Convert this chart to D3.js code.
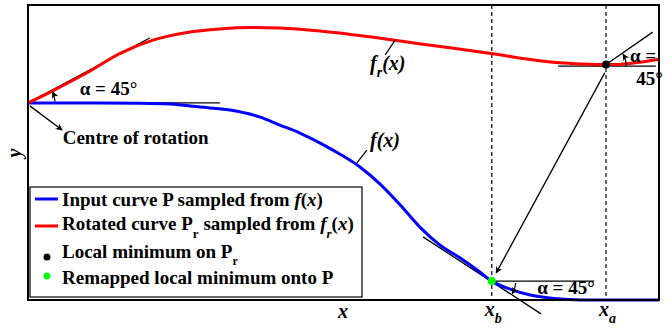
<!DOCTYPE html>
<html>
<head>
<meta charset="utf-8">
<script src="https://cdn.jsdelivr.net/npm/d3@7"></script>
<style>
  body { margin: 0; background: #fff; }
  svg text { font-family: 'Liberation Serif', 'Times New Roman', Times, 'DejaVu Serif', serif; font-weight: bold; fill: #000; }
</style>
</head>
<body>
<svg id="chart" width="672" height="330"></svg>
<script>
// input curve P, sampled from f(x)
const inputX = [0, 5.1, 11.4, 17.7, 22.5, 27.3, 32.0, 36.8, 39.9, 43.1, 46.3, 49.4, 52.6, 55.8, 59.0,
                62.1, 65.3, 68.5, 71.6, 73.5, 76.4, 79.6, 82.7, 85.9, 89.1, 93.8, 100];
const inputY = [66.8, 66.8, 66.8, 66.7, 66.4, 65.4, 64.4, 62.0, 59.3, 56.6, 53.2, 49.5, 45.1, 39.3, 32.2,
                24.7, 18.6, 14.2, 9.5, 6.4, 3.7, 1.7, 0.7, 0.2, 0, 0, 0];

// rotated curve Pr, sampled from fr(x)
const rotatedX = [0, 4.0, 9.4, 14.6, 19.8, 25.2, 30.4, 35.2, 39.9, 46.3, 54.2, 59.0, 65.3, 70.0, 74.8,
                  79.6, 84.8, 89.1, 91.6, 95.4, 100];
const rotatedY = [66.8, 71.0, 77.1, 83.6, 88.1, 90.7, 91.9, 92.4, 92.2, 91.2, 89.2, 87.8, 85.9, 84.6, 83.1,
                  81.5, 80.3, 79.9, 79.8, 80.2, 81.6];

const xa = 91.6, xb = 73.5;
const localMin = [91.6, 79.8];
const remappedMin = [73.5, 6.4];

// helper lines (x1, y1, x2, y2)
const tangentLines = [
  [0, 66.8, 30.4, 66.8],
  [0, 66.8, 19.3, 88.8],
  [84.0, 79.3, 99.5, 79.3],
  [91.6, 79.8, 99.0, 90.8],
  [73.5, 6.4, 89.7, 6.4],
  [62.6, 21.4, 81.3, -4.7]
];

const legendLabels = ['Input curve P sampled from ', 'Rotated curve P', 'Local minimum on P', 'Remapped local minimum onto P'];

const svg = d3.select('#chart');
const x = d3.scaleLinear().domain([0, 100]).range([28, 659]);
const y = d3.scaleLinear().domain([0, 100]).range([300, 5]);
const serif = "'Liberation Serif', 'Times New Roman', Times, 'DejaVu Serif', serif";

// arrow marker
svg.append('defs').append('marker')
    .attr('id', 'arrow')
    .attr('viewBox', '0 -5 10 10')
    .attr('refX', 9).attr('refY', 0)
    .attr('markerWidth', 9).attr('markerHeight', 7)
    .attr('markerUnits', 'userSpaceOnUse')
    .attr('orient', 'auto')
  .append('path')
    .attr('d', 'M0,-5L10,0L0,5L3,0Z')
    .attr('fill', '#000');

// dashed verticals at xa and xb
svg.selectAll('.vline').data([xa, xb]).enter().append('line')
    .attr('class', 'vline')
    .attr('x1', d => x(d)).attr('x2', d => x(d))
    .attr('y1', y(100)).attr('y2', y(0))
    .attr('stroke', '#000').attr('stroke-width', 1.2)
    .attr('stroke-dasharray', '4,3');

// tangent / reference lines
svg.selectAll('.tline').data(tangentLines).enter().append('line')
    .attr('class', 'tline')
    .attr('x1', d => x(d[0])).attr('y1', d => y(d[1]))
    .attr('x2', d => x(d[2])).attr('y2', d => y(d[3]))
    .attr('stroke', '#000').attr('stroke-width', 1.3);

const line = d3.line().curve(d3.curveMonotoneX)
    .x(d => x(d[0])).y(d => y(d[1]));

svg.append('path')
    .datum(inputX.map((v, i) => [v, inputY[i]]))
    .attr('d', line)
    .attr('fill', 'none').attr('stroke', '#0000ff').attr('stroke-width', 3);

svg.append('path')
    .datum(rotatedX.map((v, i) => [v, rotatedY[i]]))
    .attr('d', line)
    .attr('fill', 'none').attr('stroke', '#ff0000').attr('stroke-width', 3);

// angle arcs with arrows
function angleArc(cx, cy, r, a0, a1, ccw) {
    const p = d3.path();
    p.arc(cx, cy, r, a0, a1, ccw);
    svg.append('path')
        .attr('d', p.toString())
        .attr('fill', 'none').attr('stroke', '#000').attr('stroke-width', 1.2)
        .attr('marker-end', 'url(#arrow)');
}
angleArc(x(0), y(66.8), 27, -0.05, -0.42, true);
angleArc(x(localMin[0]), y(localMin[1]), 20, 0.08, -0.55, true);
angleArc(x(remappedMin[0]), y(remappedMin[1]), 24, 0.08, 0.55, false);

// arrows
const arrows = [[0.3, 65.8, 5.4, 57.6], [91.4, 77.0, 74.2, 9.2]];
svg.selectAll('.arr').data(arrows).enter().append('line')
    .attr('class', 'arr')
    .attr('x1', d => x(d[0])).attr('y1', d => y(d[1]))
    .attr('x2', d => x(d[2])).attr('y2', d => y(d[3]))
    .attr('stroke', '#000').attr('stroke-width', 1.3)
    .attr('marker-end', 'url(#arrow)');

// points
svg.append('circle').attr('cx', x(localMin[0])).attr('cy', y(localMin[1])).attr('r', 4).attr('fill', '#000');
svg.append('circle').attr('cx', x(remappedMin[0])).attr('cy', y(remappedMin[1])).attr('r', 4).attr('fill', '#00ff00');

function label(px, py, size, str) {
    return svg.append('text').attr('x', px).attr('y', py)
        .attr('font-family', serif).attr('font-weight', 'bold')
        .attr('font-size', size).text(str);
}

// annotations
label(x(8.2), y(69.5), 19, 'α = 45°');
label(x(95.4), y(80.7), 19, 'α =');
label(x(96.4), y(72.8), 19, '45°');
label(x(80.7), y(2.0), 19, 'α = 45°');
label(x(5.5), y(52.9), 19, 'Centre of rotation');

// curve labels
const frLab = label(x(54.2), y(78.0), 20, null).attr('font-style', 'italic');
frLab.append('tspan').text('f');
frLab.append('tspan').attr('dy', 7).attr('font-size', 14).text('r');
frLab.append('tspan').attr('dy', -7).text('(x)');
svg.append('line').attr('x1', x(56.6)).attr('y1', y(83.1)).attr('x2', x(58.2)).attr('y2', y(88.1))
    .attr('stroke', '#000').attr('stroke-width', 1.2);
label(x(54.2), y(51.9), 20, 'f(x)').attr('font-style', 'italic');
svg.append('line').attr('x1', x(52.1)).attr('y1', y(46.4)).attr('x2', x(53.7)).attr('y2', y(50.8))
    .attr('stroke', '#000').attr('stroke-width', 1.2);

// axis labels
label(343, 318, 20, 'x').attr('font-style', 'italic').attr('text-anchor', 'middle');
function subLabel(px, sub) {
    const t = label(px - 7, 316, 20, null).attr('font-style', 'italic');
    t.append('tspan').text('x');
    t.append('tspan').attr('dy', 7).attr('font-size', 14).text(sub);
}
subLabel(x(xb), 'b');
subLabel(x(xa), 'a');
label(0, 0, 20, 'y').attr('font-style', 'italic')
    .attr('transform', 'translate(21,153) rotate(-90)')
    .attr('text-anchor', 'middle');

// frame
svg.append('rect').attr('x', x(0)).attr('y', y(100)).attr('width', x(100) - x(0)).attr('height', y(0) - y(100))
    .attr('fill', 'none').attr('stroke', '#000').attr('stroke-width', 2);

// legend
const lg = svg.append('g');
lg.append('rect').attr('x', 30).attr('y', 187).attr('width', 332).attr('height', 110)
    .attr('fill', '#fff').attr('stroke', '#000').attr('stroke-width', 1.2);
lg.append('line').attr('x1', 35).attr('x2', 58).attr('y1', 199).attr('y2', 199).attr('stroke', '#0000ff').attr('stroke-width', 3);
lg.append('line').attr('x1', 35).attr('x2', 58).attr('y1', 226).attr('y2', 226).attr('stroke', '#ff0000').attr('stroke-width', 3);
lg.append('circle').attr('cx', 47).attr('cy', 257).attr('r', 3.5).attr('fill', '#000');
lg.append('circle').attr('cx', 47).attr('cy', 276).attr('r', 3.5).attr('fill', '#00ff00');

const t1 = label(62, 206, 19, null);
t1.append('tspan').text(legendLabels[0]);
t1.append('tspan').attr('font-style', 'italic').text('f');
t1.append('tspan').text('(');
t1.append('tspan').attr('font-style', 'italic').text('x');
t1.append('tspan').text(')');

const t2 = label(62, 230, 19, null);
t2.append('tspan').text(legendLabels[1]);
t2.append('tspan').attr('dy', 8).attr('font-size', 13).text('r');
t2.append('tspan').attr('dy', -8).text(' sampled from ');
t2.append('tspan').attr('font-style', 'italic').text('f');
t2.append('tspan').attr('font-style', 'italic').attr('dy', 8).attr('font-size', 13).text('r');
t2.append('tspan').attr('dy', -8).text('(');
t2.append('tspan').attr('font-style', 'italic').text('x');
t2.append('tspan').text(')');

const t3 = label(62, 258, 19, null);
t3.append('tspan').text(legendLabels[2]);
t3.append('tspan').attr('dy', 7).attr('font-size', 12).text('r');

label(62, 284, 19, legendLabels[3]);
</script>
</body>
</html>
